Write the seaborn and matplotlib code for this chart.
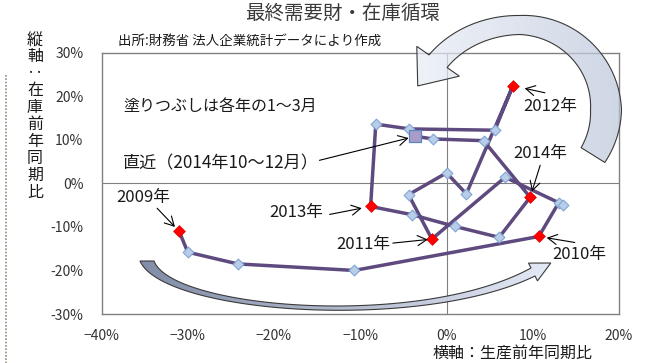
import numpy as np
import pandas as pd
import matplotlib
matplotlib.use("Agg")
import matplotlib.pyplot as plt
import seaborn as sns
from matplotlib.patches import Polygon
from matplotlib.lines import Line2D
from matplotlib.colors import LinearSegmentedColormap

# Quarterly path: production YoY (x, %) vs inventory YoY (y, %)
quarters = ["2009Q1", "2009Q2", "2009Q3", "2009Q4",
            "2010Q1", "2010Q2", "2010Q3", "2010Q4",
            "2011Q1", "2011Q2", "2011Q3", "2011Q4",
            "2012Q1", "2012Q2", "2012Q3", "2012Q4",
            "2013Q1", "2013Q2", "2013Q3", "2013Q4",
            "2014Q1", "2014Q2", "2014Q3", "2014Q4"]
production = [-31.0, -30.0, -24.2, -10.7,
              10.7, 13.0, 13.5, 6.8,
              -1.7, -4.4, 0.0, 2.3,
              7.7, 5.6, -4.3, -8.2,
              -8.8, -4.0, 1.0, 6.1,
              9.7, 4.3, -1.6, -3.6]
inventory = [-11.0, -15.8, -18.5, -20.0,
             -12.2, -4.5, -4.9, 1.4,
             -12.8, -2.6, 2.4, -2.4,
             22.4, 12.2, 12.5, 13.6,
             -5.3, -7.2, -9.9, -12.4,
             -3.2, 9.8, 10.2, 10.8]

x_ticks = [-40, -30, -20, -10, 0, 10, 20]
y_ticks = [-30, -20, -10, 0, 10, 20, 30]

# Year callouts: quarter, label, text offset (px, right/down), arrow tail offset (px), gap at head (px)
callout_quarters = ["2009Q1", "2010Q1", "2011Q1", "2012Q1", "2013Q1", "2014Q1"]
callout_labels = ["2009年", "2010年", "2011年", "2012年", "2013年", "2014年"]
callout_text_off = [(-36, -34), (41, 18), (-69, 5), (37, 21), (-74, 6), (10, -44)]
callout_tail_off = [(-22, -23), (36, 6), (-39, 4), (32, 7), (-41, 8), (10, -32)]
callout_gap = [6, 8, 4, 12, 9, 6]

title = "最終需要財・在庫循環"
source_note = "出所:財務省 法人企業統計データにより作成"
fill_note = "塗りつぶしは各年の1～3月"
latest_note = "直近（2014年10～12月）"
y_title = "縦軸‥在庫前年同期比"
x_title = "横軸：生産前年同期比"

sns.set_theme(style="white")
plt.rcParams["font.family"] = ["Noto Sans CJK JP", "DejaVu Sans"]

df = pd.DataFrame({"quarter": quarters, "production": production, "inventory": inventory})
df["kind"] = np.where(df["quarter"].str.endswith("Q1"), "q1", "other")
df.loc[df.index[-1], "kind"] = "latest"

W, H = 649, 363
PX = 0.72  # points per pixel at 100 dpi
fig = plt.figure(figsize=(W / 100, H / 100), dpi=100)
fig.patch.set_facecolor("white")
ax = fig.add_axes([101.5 / W, 1 - 314 / H, (619 - 101.5) / W, (314 - 52.7) / H])

line_color = "#5E4A7E"
grid_color = "#808080"
ax.axhline(0, color=grid_color, lw=0.8, zorder=1)
ax.axvline(0, color=grid_color, lw=0.8, zorder=1)

sns.lineplot(data=df, x="production", y="inventory", sort=False, estimator=None,
             color=line_color, lw=2.5, ax=ax, zorder=2)
sns.scatterplot(data=df[df["kind"] == "other"], x="production", y="inventory",
                marker="D", s=30, color="#B9CDE8", edgecolor="#7FA6D6", linewidth=0.8,
                ax=ax, zorder=3)
sns.scatterplot(data=df[df["kind"] == "q1"], x="production", y="inventory",
                marker="D", s=36, color="#FF0000", edgecolor="#E00000", linewidth=0.5,
                ax=ax, zorder=4)
sns.scatterplot(data=df[df["kind"] == "latest"], x="production", y="inventory",
                marker="s", s=85, color="#A99CC8", edgecolor="#5B87C5", linewidth=0.9,
                ax=ax, zorder=5)

ax.set_xlim(-40, 20)
ax.set_ylim(-30, 30)
ax.set_xticks(x_ticks)
ax.set_xticklabels([f"{v}%".replace("-", "\u2212") for v in x_ticks])
ax.set_yticks(y_ticks)
ax.set_yticklabels([f"{v}%" for v in y_ticks])
ax.tick_params(axis="x", length=0, pad=11, labelsize=10, labelcolor="#333333")
ax.tick_params(axis="y", length=0, pad=13, labelsize=10, labelcolor="#333333")
ax.set_xlabel("")
ax.set_ylabel("")
for sp in ax.spines.values():
    sp.set_visible(True)
    sp.set_color(grid_color)
    sp.set_linewidth(1.0)

arrow_kw = dict(arrowstyle="->,head_length=0.55,head_width=0.3", color="black", lw=0.8,
                shrinkA=0)
pts = df.set_index("quarter")
for q, lab, toff, aoff, gap in zip(callout_quarters, callout_labels, callout_text_off,
                                   callout_tail_off, callout_gap):
    xy = (pts.loc[q, "production"], pts.loc[q, "inventory"])
    ax.annotate("", xy=xy, xytext=(aoff[0] * PX, -aoff[1] * PX), textcoords="offset points",
                arrowprops=dict(arrow_kw, shrinkB=gap * PX), zorder=6)
    ax.annotate(lab, xy=xy, xytext=(toff[0] * PX, -toff[1] * PX), textcoords="offset points",
                ha="center", va="center", fontsize=12, color="#1a1a1a", zorder=6)

last = df.iloc[-1]
ax.annotate("", xy=(last["production"], last["inventory"]), xytext=(-96 * PX, -24 * PX),
            textcoords="offset points", arrowprops=dict(arrow_kw, shrinkB=7 * PX), zorder=6)

# Figure texts
fig.text(342 / W, 1 - 13 / H, title, ha="center", va="center", fontsize=14, color="#3a3a3a")
fig.text(118 / W, 1 - 41 / H, source_note, ha="left", va="center", fontsize=9.7, color="#1a1a1a")
fig.text(123 / W, 1 - 106.7 / H, fill_note, ha="left", va="center", fontsize=11.5, color="#1a1a1a")
fig.text(123 / W, 1 - 163 / H, latest_note, ha="left", va="center", fontsize=12.3, color="#1a1a1a")
fig.text(512.5 / W, 1 - 353 / H, x_title, ha="center", va="center", fontsize=11.5, color="#1a1a1a")
for i, ch in enumerate(y_title):
    fig.text(35 / W, 1 - (40 + 16.9 * i) / H, ch, ha="center", va="center",
             fontsize=11.5, color="#1a1a1a")

fig.add_artist(Line2D([6 / W, 6 / W], [1 - 75 / H, 0], transform=fig.transFigure,
                      ls=(0, (1, 1)), color="#9A8C78", lw=1.2))

# Decorative cycle arrows drawn on a pixel-space overlay
ov = fig.add_axes([0, 0, 1, 1], zorder=10)
ov.patch.set_alpha(0)


def gradient_shape(verts, c0, c1, alpha):
    poly = Polygon(verts, closed=True, facecolor="none", edgecolor="#3a3a3a", lw=0.8, zorder=2)
    ov.add_patch(poly)
    cmap = LinearSegmentedColormap.from_list("grad", [c0, c1])
    grad = np.linspace(0, 1, 256)[None, :]
    im = ov.imshow(grad, extent=(verts[:, 0].min(), verts[:, 0].max(),
                                 verts[:, 1].max(), verts[:, 1].min()),
                   cmap=cmap, alpha=alpha, aspect="auto", zorder=1, interpolation="bilinear")
    im.set_clip_path(poly)


# upper arc arrow
deg = np.linspace(-32, 145, 160)
th = np.radians(deg)
cx, cy = 520, 110
rx = np.where(np.cos(th) > 0, 86, 100)
ry = 85
w = np.interp(deg, [-32, 0, 90, 145], [28, 31, 19, 22])
outer = np.column_stack([cx + (rx + w / 2) * np.cos(th), cy - (ry + w / 2) * np.sin(th)])
inner = np.column_stack([cx + (rx - w / 2) * np.cos(th), cy - (ry - w / 2) * np.sin(th)])
te = th[-1]
base = np.array([cx + rx[-1] * np.cos(te), cy - ry * np.sin(te)])
tan = np.array([-rx[-1] * np.sin(te), -ry * np.cos(te)])
tan /= np.linalg.norm(tan)
rad = np.array([np.cos(te), -np.sin(te)])
hw = w[-1] / 2 + 15
head = np.array([base + hw * rad, base + 32 * tan, base - hw * rad])
top_arrow = np.vstack([outer, head, inner[::-1]])
gradient_shape(top_arrow, "#E8EDF6", "#BCC7DB", 0.72)


# lower sweep arrow
def cubic(p0, p1, p2, p3, n=120):
    t = np.linspace(0, 1, n)[:, None]
    p0, p1, p2, p3 = map(np.asarray, (p0, p1, p2, p3))
    return ((1 - t) ** 3) * p0 + 3 * ((1 - t) ** 2) * t * p1 + 3 * (1 - t) * t ** 2 * p2 + t ** 3 * p3


lower = cubic((140, 261), (163, 314), (420, 332), (535, 276))
upper = cubic((154, 261), (172, 309), (420, 329), (531, 268))
d = np.array([0.89, -0.45])
nrm = np.array([0.45, 0.89])
b = np.array([533, 272])
head2 = np.array([b + 10 * nrm, b + 20 * d, b - 10 * nrm])
low_arrow = np.vstack([lower, head2, upper[::-1]])
gradient_shape(low_arrow, "#7A86A2", "#E4E9F7", 0.95)

ov.set_xlim(0, W)
ov.set_ylim(H, 0)
ov.axis("off")

fig.savefig("out.png", dpi=100, facecolor="white")
